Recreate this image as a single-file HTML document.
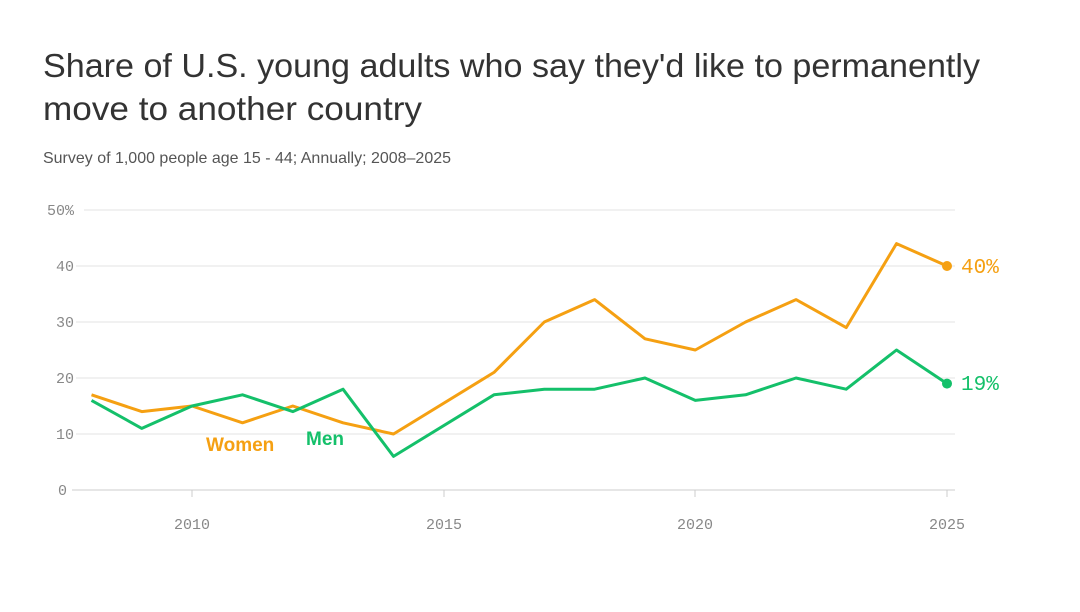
<!DOCTYPE html>
<html><head><meta charset="utf-8"><style>
body{margin:0;background:#fff;width:1080px;height:607px;overflow:hidden;font-family:"Liberation Sans",sans-serif}
</style></head><body>
<svg width="1080" height="607" xmlns="http://www.w3.org/2000/svg">
<text x="43" y="77" font-size="33" fill="#333" font-family="Liberation Sans" textLength="937" lengthAdjust="spacingAndGlyphs">Share of U.S. young adults who say they'd like to permanently</text>
<text x="43" y="120" font-size="33" fill="#333" font-family="Liberation Sans" textLength="379" lengthAdjust="spacingAndGlyphs">move to another country</text>
<text x="43" y="163" font-size="16" fill="#555" font-family="Liberation Sans" textLength="408" lengthAdjust="spacingAndGlyphs">Survey of 1,000 people age 15 - 44; Annually; 2008–2025</text>
<g stroke="#e3e3e3" stroke-width="1">
<line x1="84" x2="955" y1="210" y2="210"/><line x1="76" x2="955" y1="266" y2="266"/><line x1="76" x2="955" y1="322" y2="322"/><line x1="76" x2="955" y1="378" y2="378"/><line x1="76" x2="955" y1="434" y2="434"/>
</g>
<line x1="72" x2="955" y1="490" y2="490" stroke="#ccc"/>
<g stroke="#ccc"><line x1="192" x2="192" y1="490" y2="497"/><line x1="444" x2="444" y1="490" y2="497"/><line x1="695" x2="695" y1="490" y2="497"/><line x1="947" x2="947" y1="490" y2="497"/></g>
<g font-family="Liberation Mono" font-size="15" fill="#888">
<text x="47" y="215">50%</text><text x="56" y="271">40</text><text x="56" y="327">30</text><text x="56" y="383">20</text><text x="56" y="439">10</text><text x="58" y="495">0</text>
<text x="192" y="529" text-anchor="middle">2010</text><text x="444" y="529" text-anchor="middle">2015</text><text x="695" y="529" text-anchor="middle">2020</text><text x="947" y="529" text-anchor="middle">2025</text>
</g>
<polyline fill="none" stroke="#f5a012" stroke-width="3" stroke-linejoin="round" points="91.5,394.8 141.8,411.6 192,406 242.5,422.8 292.8,406 343,422.8 393.5,434 494,372.4 544.3,322 594.6,299.6 645,338.8 695.3,350 745.6,322 796,299.6 846.2,327.6 896.5,243.6 947,266"/>
<polyline fill="none" stroke="#14c06a" stroke-width="3" stroke-linejoin="round" points="91.5,400.4 141.8,428.4 192,406 242.5,394.8 292.8,411.6 343,389.2 393.5,456.4 494,394.8 544.3,389.2 594.6,389.2 645,378 695.3,400.4 745.6,394.8 796,378 846.2,389.2 896.5,350 947,383.6"/>
<circle cx="947" cy="266" r="5" fill="#f5a012"/><circle cx="947" cy="383.6" r="5" fill="#14c06a"/>
<text x="961" y="273" font-family="Liberation Mono" font-size="21" fill="#f5a012">40%</text>
<text x="961" y="390" font-family="Liberation Mono" font-size="21" fill="#14c06a">19%</text>
<text x="206" y="451" font-size="19" font-weight="bold" fill="#f5a012">Women</text>
<text x="306" y="445" font-size="19" font-weight="bold" fill="#14c06a">Men</text>
</svg>
</body></html>
